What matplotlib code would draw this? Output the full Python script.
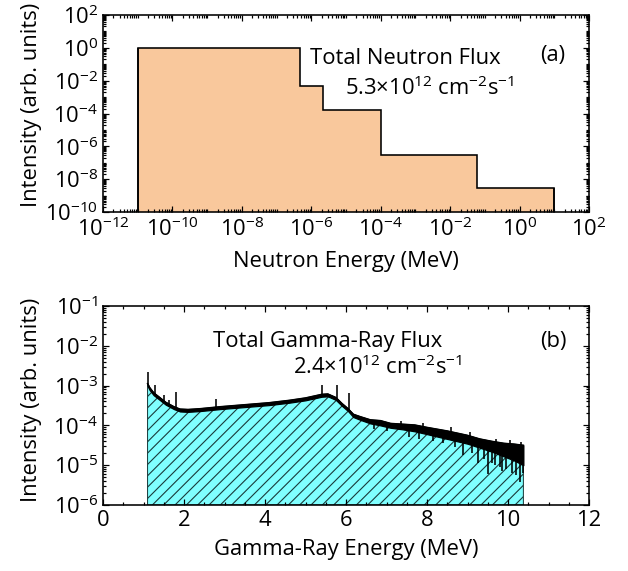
import numpy as np
import matplotlib
matplotlib.use("Agg")
import matplotlib.pyplot as plt
from matplotlib.ticker import LogLocator, MultipleLocator, NullFormatter

# hatch tile size follows dpi, so dpi is picked for ~13 px hatch spacing
DPI = 68


def pt(p):
    # pixel size -> points at this dpi
    return p * 72.0 / DPI


# (a) neutron spectrum, group edges in MeV and group intensities
neutron_edges = [1e-11, 4.6e-7, 2.2e-6, 1e-4, 6e-2, 10.0]
neutron_values = [1.0, 5e-3, 1.6e-4, 3e-7, 3e-9]

# (b) gamma-ray spectrum envelope (log10 of intensity)
gamma_energy = [1.10, 1.15, 1.25, 1.40, 1.55, 1.75, 1.90, 2.10, 2.40, 2.90, 3.50, 4.10, 4.60,
                5.00, 5.40, 5.55, 5.75, 5.90, 6.05, 6.18, 6.35, 6.60, 6.85, 7.10, 7.40, 7.70,
                8.00, 8.50, 9.00, 9.30, 9.60, 9.90, 10.15, 10.38]
gamma_upper_log = [-2.95, -3.05, -3.18, -3.30, -3.42, -3.53, -3.59, -3.60, -3.58, -3.53, -3.48,
                   -3.43, -3.37, -3.31, -3.22, -3.21, -3.30, -3.45, -3.58, -3.72, -3.78, -3.86,
                   -3.88, -3.95, -3.97, -3.99, -4.05, -4.14, -4.25, -4.34, -4.40, -4.45, -4.47,
                   -4.50]
gamma_lower_log = [-3.01, -3.11, -3.24, -3.36, -3.48, -3.59, -3.65, -3.66, -3.64, -3.59, -3.54,
                   -3.49, -3.43, -3.37, -3.28, -3.27, -3.36, -3.51, -3.64, -3.79, -3.86, -3.95,
                   -4.00, -4.06, -4.10, -4.15, -4.22, -4.34, -4.46, -4.56, -4.66, -4.78, -4.88,
                   -5.00]
# sharp lines sticking out above the continuum
peak_energy = [1.12, 1.28, 1.50, 1.63, 1.80, 2.79, 5.40, 5.77, 6.08,
               7.35, 7.90, 8.60, 9.05, 9.70, 10.05, 10.33]
peak_top_log = [-2.67, -2.98, -3.24, -3.36, -3.17, -3.34, -2.98, -2.99, -3.19,
                -3.90, -3.95, -4.05, -4.17, -4.33, -4.36, -4.42]
# downward spikes in the noisy high-energy part
dip_energy = [6.70, 7.00, 7.55, 7.80, 8.15, 8.40, 8.70, 8.90, 9.10, 9.25, 9.40, 9.50, 9.60,
              9.68, 9.80, 9.85, 9.95, 10.10, 10.20, 10.30, 10.36]
dip_bottom_log = [-4.10, -4.15, -4.30, -4.33, -4.40, -4.45, -4.55, -4.75, -4.70, -4.95, -4.85,
                  -5.22, -4.95, -5.00, -5.05, -5.15, -5.10, -5.20, -5.25, -5.41, -5.20]

plt.rcParams['font.family'] = ['Open Sans', 'DejaVu Sans']
plt.rcParams['mathtext.fontset'] = 'custom'
plt.rcParams['mathtext.rm'] = 'Open Sans'
plt.rcParams['mathtext.it'] = 'Open Sans:italic'
plt.rcParams['mathtext.bf'] = 'Open Sans:bold'
plt.rcParams['hatch.linewidth'] = pt(1.1)

FS = pt(22)

fig = plt.figure(figsize=(628 / DPI, 571 / DPI), dpi=DPI)
ax1 = fig.add_axes([103 / 628, 1 - 212 / 571, 486 / 628, 197 / 571])
ax2 = fig.add_axes([103 / 628, 1 - 505 / 571, 486 / 628, 199 / 571])

# ---- (a) neutrons
ax1.stairs(neutron_values, neutron_edges, baseline=1e-10, fill=True,
           facecolor='#F9C89C', edgecolor='none')
ax1.stairs(neutron_values, neutron_edges, baseline=1e-10, fill=False,
           color='black', linewidth=pt(1.6))
ax1.vlines([neutron_edges[0], neutron_edges[-1]], 1e-10,
           [neutron_values[0], neutron_values[-1]], color='black', linewidth=pt(1.6))
ax1.set_xscale('log')
ax1.set_yscale('log')
ax1.set_xlim(1e-12, 1e2)
ax1.set_ylim(1e-10, 1e2)
ax1.set_xticks([10.0 ** k for k in range(-12, 3, 2)])
ax1.set_yticks([10.0 ** k for k in range(-10, 3, 2)])
for axis in (ax1.xaxis, ax1.yaxis):
    axis.set_minor_locator(LogLocator(base=10, subs=np.arange(1, 10), numticks=100))
    axis.set_minor_formatter(NullFormatter())
ax1.set_xlabel('Neutron Energy (MeV)', fontsize=FS, labelpad=pt(10))
ax1.set_ylabel('Intensity (arb. units)', fontsize=FS)
ax1.yaxis.set_label_coords(-0.125, 0.543)
ax1.text(310 / 628, 1 - 59 / 571, 'Total Neutron Flux', transform=fig.transFigure,
         fontsize=FS, ha='left', va='center')
ax1.text(345 / 628, 1 - 88 / 571, '5.3×10$^{12}$ cm$^{-2}$s$^{-1}$', transform=fig.transFigure,
         fontsize=FS, ha='left', va='center')
ax1.text(540 / 628, 1 - 55 / 571, '(a)', transform=fig.transFigure,
         fontsize=FS, ha='left', va='center')

# ---- (b) gamma rays
e = np.array(gamma_energy)
up = 10.0 ** np.array(gamma_upper_log)
lo = 10.0 ** np.array(gamma_lower_log)
ax2.fill_between(e, 1e-6, up, facecolor='#80FFFF', edgecolor='#1a3a3a', hatch='//',
                 linewidth=pt(1.0))
ax2.fill_between(e, lo, up, color='black', linewidth=pt(1.2))
ax2.plot(e, up, color='black', linewidth=pt(1.5))
pk_base = np.interp(peak_energy, e, up)
ax2.vlines(peak_energy, pk_base, 10.0 ** np.array(peak_top_log), color='black', linewidth=pt(1.6))
dp_base = np.interp(dip_energy, e, lo)
ax2.vlines(dip_energy, 10.0 ** np.array(dip_bottom_log), dp_base, color='black', linewidth=pt(1.6))
ax2.set_yscale('log')
ax2.set_xlim(0, 12)
ax2.set_ylim(1e-6, 1e-1)
ax2.xaxis.set_major_locator(MultipleLocator(2))
ax2.xaxis.set_minor_locator(MultipleLocator(0.5))
ax2.yaxis.set_major_locator(LogLocator(base=10, numticks=100))
ax2.yaxis.set_minor_locator(LogLocator(base=10, subs=np.arange(1, 10), numticks=100))
ax2.yaxis.set_minor_formatter(NullFormatter())
ax2.set_xlabel('Gamma-Ray Energy (MeV)', fontsize=FS, labelpad=pt(8))
ax2.set_ylabel('Intensity (arb. units)', fontsize=FS)
ax2.yaxis.set_label_coords(-0.125, 0.528)
ax2.text(213 / 628, 1 - 341 / 571, 'Total Gamma-Ray Flux', transform=fig.transFigure,
         fontsize=FS, ha='left', va='center')
ax2.text(293 / 628, 1 - 367 / 571, '2.4×10$^{12}$ cm$^{-2}$s$^{-1}$', transform=fig.transFigure,
         fontsize=FS, ha='left', va='center')
ax2.text(540 / 628, 1 - 342 / 571, '(b)', transform=fig.transFigure,
         fontsize=FS, ha='left', va='center')

for ax in (ax1, ax2):
    for s in ax.spines.values():
        s.set_linewidth(pt(1.6))
    ax.tick_params(which='both', direction='in', top=True, right=True,
                   labelsize=FS, width=pt(1.2))
    ax.tick_params(which='major', length=pt(6), pad=pt(5))
    ax.tick_params(which='minor', length=pt(3))

fig.savefig('out.png', dpi=DPI)
